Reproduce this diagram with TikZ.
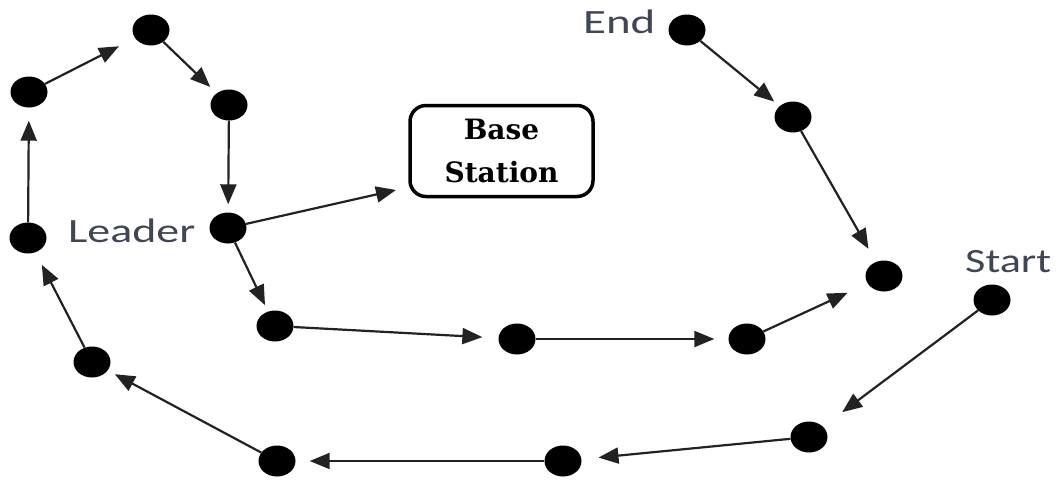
\documentclass[tikz,border=0pt]{standalone}
\usepackage{fontspec}
\usepackage{graphicx}
\usetikzlibrary{arrows.meta,shapes.geometric}
\newfontfamily\lblfont{Carlito}
\newfontfamily\bsfont{DejaVu Serif}
\definecolor{lblcol}{HTML}{3F4654}
\definecolor{linecol}{HTML}{222222}
\begin{document}
\begin{tikzpicture}[x=1pt,y=-1pt,
  dot/.style={ellipse, fill=black, minimum width=37pt, minimum height=31pt, inner sep=0pt},
  link/.style={draw=linecol, line width=2.2pt, -{Triangle[length=20pt,width=16pt]}},
  lbl/.style={anchor=base west, inner sep=0pt, text=lblcol, font=\lblfont\fontsize{34}{40}\selectfont},
]
\useasboundingbox[fill=white] (0,0) rectangle (1059,485);

\node[dot] (n1) at (151,30) {};
\node[dot] (n2) at (29,92) {};
\node[dot] (n3) at (229,105) {};
\node[dot] (n4) at (28,238) {};
\node[dot] (ld) at (228,228) {};
\node[dot] (n6) at (275,326) {};
\node[dot] (n7) at (517,339) {};
\node[dot] (n8) at (747,339) {};
\node[dot] (n9) at (884,276) {};
\node[dot] (st) at (992,300) {};
\node[dot] (n11) at (809,437) {};
\node[dot] (n12) at (563,461) {};
\node[dot] (n13) at (277,461) {};
\node[dot] (n14) at (92,362) {};
\node[dot] (en) at (687,30) {};
\node[dot] (n16) at (793,117) {};

\node[draw=black, line width=3.5pt, rounded corners=16pt, minimum width=183pt, minimum height=91pt,
      align=center, inner sep=0pt, font=\bsfont\bfseries\fontsize{28}{43}\selectfont]
      (bs) at (501.5,151) {Base\\Station};
\coordinate (bstip) at (396,190);

\node[lbl] (tl) at (68,242) {\scalebox{1.35}[1]{Leader}};
\node[lbl] (te) at (583,33) {\scalebox{1.38}[1]{End}};
\node[lbl] (ts) at (965,272) {\scalebox{1.3}[1]{Start}};

\draw[link, shorten >=13pt] (n4) -- (n2);
\draw[link, shorten >=18pt] (n2) -- (n1);
\draw[link, shorten >=9pt] (n1) -- (n3);
\draw[link, shorten >=8pt] (n3) -- (ld);
\draw[link] (ld) -- (bstip);
\draw[link, shorten >=7pt] (ld) -- (n6);
\draw[link, shorten >=16pt] (n6) -- (n7);
\draw[link, shorten >=14pt] (n7) -- (n8);
\draw[link, shorten >=22pt] (n8) -- (n9);
\draw[link, shorten >=15pt] (n16) -- (n9);
\draw[link, shorten >=7pt] (en) -- (n16);
\draw[link, shorten >=24pt] (st) -- (n11);
\draw[link, shorten >=17pt] (n11) -- (n12);
\draw[link, shorten >=14pt] (n12) -- (n13);
\draw[link, shorten >=8pt] (n13) -- (n14);
\draw[link, shorten >=14pt] (n14) -- (n4);
\end{tikzpicture}
\end{document}
